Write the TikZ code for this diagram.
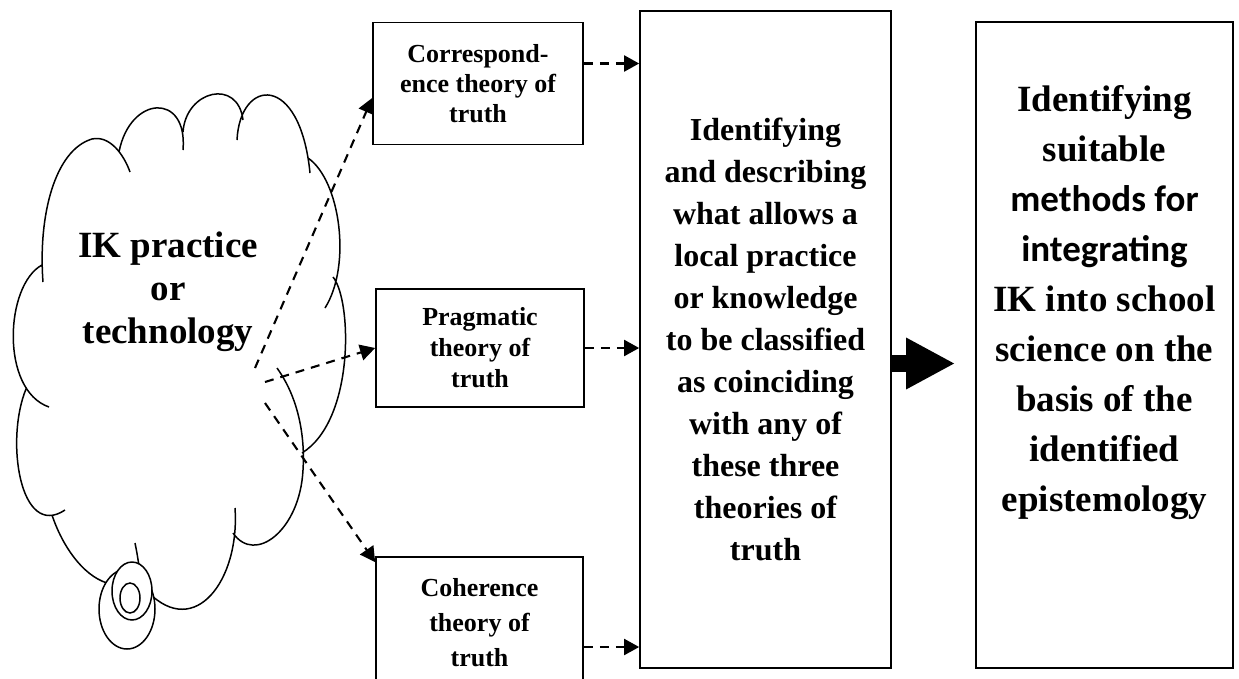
\documentclass[tikz,border=0pt]{standalone}
\usepackage{fontspec}
\setmainfont{Liberation Serif}
\newfontfamily\calibrifont{Carlito}
\usetikzlibrary{arrows.meta}

\begin{document}
\begin{tikzpicture}[
    x=1pt, y=-1pt,
    box/.style={draw, line width=1.7pt, align=center, inner sep=0pt},
    smallbox/.style={box, minimum width=210pt, minimum height=122pt},
    smalltext/.style={font=\bfseries\fontsize{26}{#1}\selectfont},
    dasharrow/.style={line width=2.1pt, dash pattern=on 9pt off 7pt, -{Triangle[length=15pt, width=16pt]}},
    bigarrow/.style={line width=17pt, -{Triangle[length=49pt, width=48pt]}, shorten >=20pt},
    cloudline/.style={line width=1.5pt},
    bubble/.style={cloudline, fill=white} % kleine Blasen unten
]
\clip (0,0) rectangle (1239,678);

% Wolke
\draw[cloudline]
    (43,282) .. controls (38,215) and (55,150) .. (92,139) .. controls (110,135) and (124,155) .. (130,172)
    (119,152) .. controls (130,95) and (188,92) .. (183,150)
    (183,132) .. controls (186,90) and (238,78) .. (243,120)
    (237,140) .. controls (240,78) and (300,72) .. (310,173)
    (308,158) .. controls (340,180) and (352,265) .. (325,308)
    (333,277) .. controls (352,300) and (355,420) .. (302,453)
    (277,368) .. controls (300,400) and (305,440) .. (303,470) .. controls (300,530) and (255,565) .. (233,533)
    (235,508) .. controls (240,580) and (195,640) .. (148,592)
    (135,543) .. controls (137,553) .. (139,566)
    (42,265) .. controls (5,285) and (0,390) .. (49,407)
    (26,389) .. controls (5,440) and (20,540) .. (65,510)
    (52,515) .. controls (62,545) and (82,575) .. (107,583);
\draw[bubble] (127,609) ellipse [x radius=28pt, y radius=40pt];
\draw[bubble] (132,591) ellipse [x radius=20pt, y radius=29pt];
\draw[bubble] (130,598) ellipse [x radius=10pt, y radius=15pt];
\node[font=\bfseries\fontsize{37}{43}\selectfont, align=center] (cloudtxt) at (168,292) {IK practice\\or\\technology};

\node[smallbox, smalltext=30] (corr) at (478,83.5) {Correspond-\\ence theory of\\truth};
\node[smallbox, smalltext=31, minimum width=208pt, minimum height=118pt] (prag) at (480,348) {Pragmatic\\theory of\\truth};
\node[smallbox, smalltext=35, minimum width=207pt, minimum height=132pt] (coh) at (479.5,623) {Coherence\\theory of\\truth};

\node[box, minimum width=251pt, minimum height=657pt, font=\bfseries\fontsize{32}{42}\selectfont] (mid) at (765.5,339.5)
    {Identifying\\and describing\\what allows a\\local practice\\or knowledge\\to be classified\\as coinciding\\with any of\\these three\\theories of\\truth};

\node[box, minimum width=257pt, minimum height=646pt] (ident) at (1104.5,345) {};
\node[font=\bfseries\fontsize{37}{50}\selectfont, align=center] (identtxt) at (1104.5,303)
    {Identifying\\suitable\\{\calibrifont methods for}\\{\calibrifont integrating}\\IK into school\\science on the\\basis of the\\identified\\epistemology};

% Pfeile aus der Wolke
\coordinate (s1) at (255,368);
\coordinate (s2) at (265,382);
\coordinate (s3) at (265,403);
\draw[dasharrow] (s1) -- ([yshift=-14.5pt]corr.west);
\draw[dasharrow] (s2) -- (prag.west);
\draw[dasharrow] (s3) -- ([yshift=-6pt]coh.north west);

\coordinate (corrout) at ([yshift=20pt]corr.east);
\coordinate (cohout) at ([yshift=-24pt]coh.east);
\draw[dasharrow] (corrout) -- (corrout -| mid.west);
\draw[dasharrow] (prag.east) -- (prag.east -| mid.west);
\draw[dasharrow] (cohout) -- (cohout -| mid.west);

\coordinate (bigout) at ([yshift=-24pt]mid.east);
\draw[bigarrow] (bigout) -- (bigout -| ident.west);

\end{tikzpicture}
\end{document}
